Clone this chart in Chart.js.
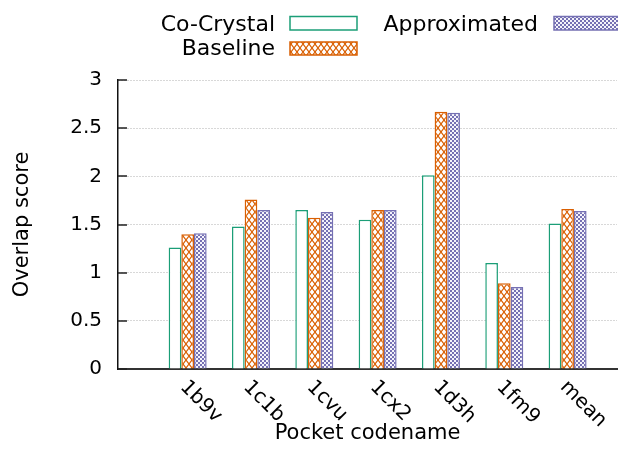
<!DOCTYPE html>
<html>
<head>
<meta charset="utf-8">
<script src="https://cdn.jsdelivr.net/npm/chart.js@4/dist/chart.umd.min.js"></script>
<style>
  html, body { margin: 0; padding: 0; background: #fff; }
  canvas { display: block; }
</style>
</head>
<body>
<canvas id="chart" width="618" height="458"></canvas>
<script>
// Pocket codenames along the x axis
const pockets = ['1b9v', '1c1b', '1cvu', '1cx2', '1d3h', '1fm9', 'mean'];
// Overlap score per method
const coCrystal    = [1.26, 1.48, 1.65, 1.55, 2.01, 1.10, 1.51];
const baseline     = [1.40, 1.76, 1.57, 1.65, 2.67, 0.89, 1.66];
const approximated = [1.41, 1.65, 1.63, 1.65, 2.66, 0.85, 1.64];
// y axis ticks and their labels
const yTicks = [0, 0.5, 1, 1.5, 2, 2.5, 3];
const yTickLabels = ['0', '0.5', '1', '1.5', '2', '2.5', '3'];

const GREEN = '#1b9e77', ORANGE = '#d95f02', PURPLE = '#7570b3';
const FONT = 'DejaVu Sans';

// cross-hatch fill
function hatchPattern(color) {
  const w = 6, h = 8;
  const c = document.createElement('canvas');
  c.width = w; c.height = h;
  const g = c.getContext('2d');
  g.fillStyle = '#fff';
  g.fillRect(0, 0, w, h);
  g.strokeStyle = color;
  g.lineWidth = 1.2;
  g.beginPath();
  g.moveTo(0, 0); g.lineTo(w, h);
  g.moveTo(0, h); g.lineTo(w, 0);
  g.stroke();
  return g.createPattern(c, 'repeat');
}
// fine checkerboard fill
function checkerPattern(color) {
  const c = document.createElement('canvas');
  c.width = 4; c.height = 4;
  const g = c.getContext('2d');
  g.fillStyle = '#f4f3fa';
  g.fillRect(0, 0, 4, 4);
  g.fillStyle = color;
  g.fillRect(0, 0, 2, 2);
  g.fillRect(2, 2, 2, 2);
  return g.createPattern(c, 'repeat');
}

const toPoints = vals => vals.map((v, i) => ({ x: i, y: v }));

// short inward tick marks on the y axis
const yTickMarks = {
  id: 'yTickMarks',
  afterDraw(chart) {
    const ys = chart.scales.y;
    const left = chart.chartArea.left;
    const ctx = chart.ctx;
    ctx.save();
    ctx.strokeStyle = '#222';
    ctx.lineWidth = 1.5;
    ctx.beginPath();
    yTicks.forEach(v => {
      const py = Math.round(ys.getPixelForValue(v));
      ctx.moveTo(left, py);
      ctx.lineTo(left + 9, py);
    });
    ctx.stroke();
    ctx.restore();
  }
};

// rotated pocket names under the axis
const pocketLabels = {
  id: 'pocketLabels',
  afterDraw(chart) {
    const xs = chart.scales.x;
    const ctx = chart.ctx;
    ctx.save();
    ctx.font = '20px "' + FONT + '"';
    ctx.fillStyle = '#000';
    ctx.textAlign = 'left';
    ctx.textBaseline = 'middle';
    pockets.forEach((name, i) => {
      const px = xs.getPixelForValue(i);
      ctx.save();
      ctx.translate(px - 4.5, xs.top + 15);
      ctx.rotate(Math.PI / 4);
      ctx.fillText(name, 0, 0);
      ctx.restore();
    });
    ctx.restore();
  }
};

// key: text to the left of each sample box, two columns
const keyBox = {
  id: 'keyBox',
  afterDraw(chart) {
    const ctx = chart.ctx;
    const ds = chart.data.datasets;
    const slots = [
      { textX: 275, baseY: 30.5, box: [290, 16.5, 67, 13.5] },
      { textX: 275, baseY: 55,   box: [290, 42,   67, 13]   },
      { textX: 538, baseY: 30.5, box: [554, 16.5, 67, 13.5] }
    ];
    ctx.save();
    ctx.font = '22px "' + FONT + '"';
    ctx.textAlign = 'right';
    ctx.textBaseline = 'alphabetic';
    ds.forEach((d, i) => {
      const s = slots[i];
      ctx.fillStyle = '#000';
      ctx.fillText(d.label, s.textX, s.baseY);
      const [bx, by, bw, bh] = s.box;
      ctx.fillStyle = d.backgroundColor;
      ctx.fillRect(bx, by, bw, bh);
      ctx.strokeStyle = d.borderColor;
      ctx.lineWidth = 1.5;
      ctx.strokeRect(bx, by, bw, bh);
    });
    ctx.restore();
  }
};

Chart.defaults.font.family = FONT;
Chart.defaults.color = '#000';

new Chart(document.getElementById('chart'), {
  type: 'bar',
  data: {
    datasets: [
      { label: 'Co-Crystal', data: toPoints(coCrystal),
        backgroundColor: '#fff', borderColor: GREEN },
      { label: 'Baseline', data: toPoints(baseline),
        backgroundColor: hatchPattern(ORANGE), borderColor: ORANGE },
      { label: 'Approximated', data: toPoints(approximated),
        backgroundColor: checkerPattern(PURPLE), borderColor: PURPLE }
    ]
  },
  options: {
    responsive: false,
    animation: false,
    layout: { padding: { top: 80, right: 1, left: 0, bottom: 0 } },
    datasets: {
      bar: {
        categoryPercentage: 0.6,
        barPercentage: 1.0,
        borderWidth: 1.5,
        borderSkipped: 'start'
      }
    },
    plugins: {
      legend: { display: false },
      tooltip: { enabled: false }
    },
    scales: {
      x: {
        type: 'linear',
        offset: false,
        min: -1.1,
        max: 6.78,
        ticks: { display: false, stepSize: 1, includeBounds: false },
        grid: { display: false, offset: false },
        border: { display: true, color: '#333', width: 2 },
        title: {
          display: true,
          text: 'Pocket codename',
          font: { size: 21, lineHeight: 1 },
          padding: { top: 0, bottom: 14 }
        },
        afterFit: s => { s.height = 89; }
      },
      y: {
        min: 0,
        max: 3,
        afterBuildTicks: s => { s.ticks = yTicks.map(v => ({ value: v })); },
        ticks: {
          font: { size: 20 },
          padding: 16,
          color: '#000',
          callback: (v, i) => yTickLabels[i]
        },
        grid: {
          color: '#b0b0b0',
          lineWidth: 1,
          drawTicks: false
        },
        border: { display: true, color: '#111', width: 1.5, dash: [1, 2] },
        title: {
          display: true,
          text: 'Overlap score',
          font: { size: 21, lineHeight: 1 },
          padding: { top: 12.5, bottom: 0 }
        },
        afterFit: s => { s.width = 118; }
      }
    }
  },
  plugins: [yTickMarks, pocketLabels, keyBox]
});
</script>
</body>
</html>
